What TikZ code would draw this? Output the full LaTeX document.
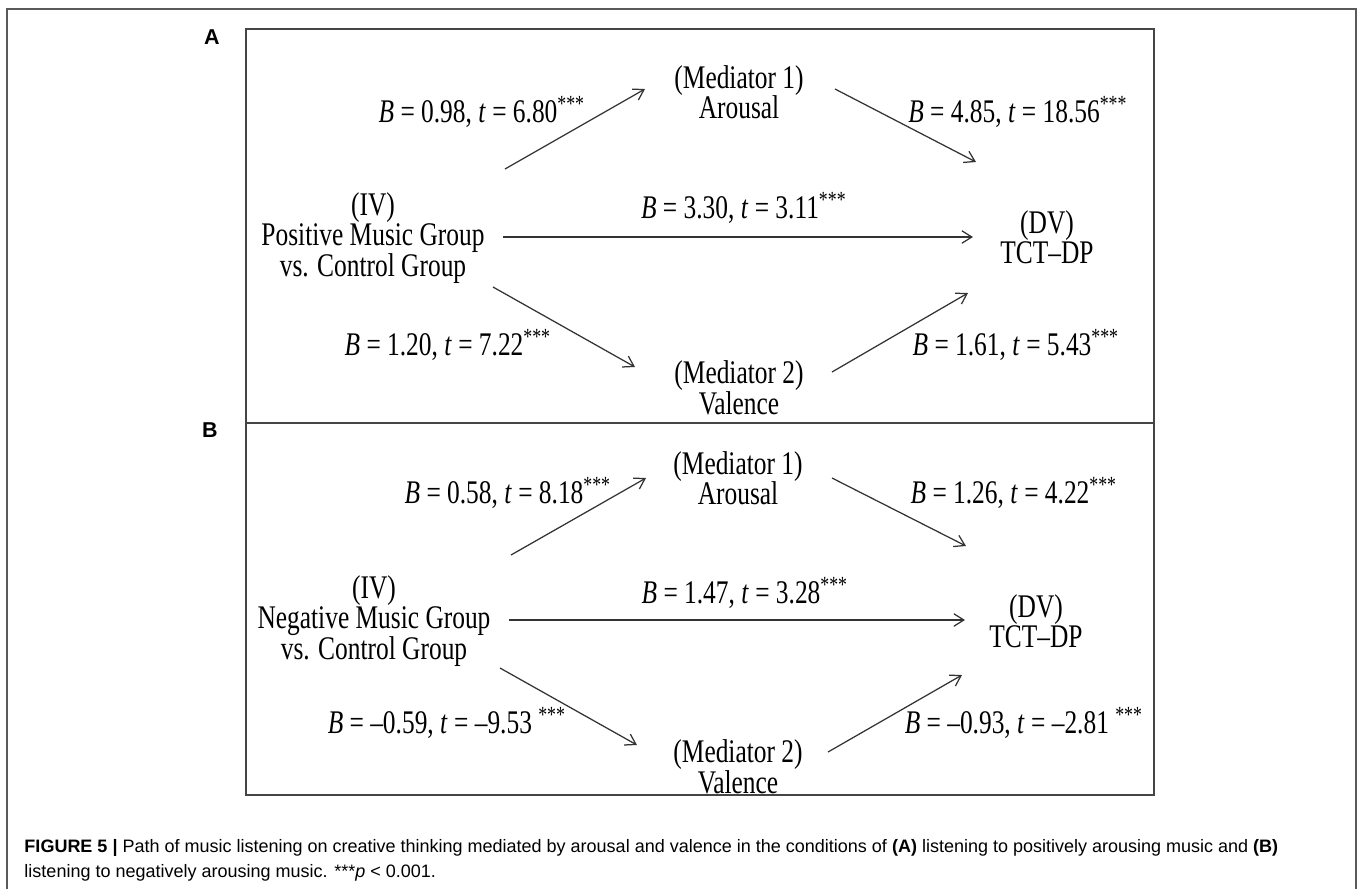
\documentclass[tikz,border=0pt]{standalone}
\usepackage{fontspec}
\usepackage{xcolor}
\usetikzlibrary{arrows.meta}

\newfontfamily\diagfont[FakeStretch=0.77]{Liberation Serif}
\newfontfamily\captfont{Liberation Sans}
\setlength{\lineskiplimit}{-6pt}
\newcommand{\coef}[2]{\textit{B} = #1, \textit{t} = #2}
\newcommand{\sig}{\textsuperscript{***}}
\definecolor{framegray}{HTML}{5A5A5A}
\definecolor{boxgray}{HTML}{454545}

\begin{document}
\begin{tikzpicture}[x=0.4pt, y=-0.4pt,
		var/.style={font=\diagfont\fontsize{13.2}{12.2}\selectfont, align=center, inner sep=0pt},
		coef/.style={font=\diagfont\fontsize{13.2}{12.2}\selectfont, inner sep=0pt},
		link/.style={draw=black!80, line width=0.5pt, -{Straight Barb[length=4pt, width=5pt]}},
		tag/.style={font=\captfont\bfseries\fontsize{8.6}{10}\selectfont, inner sep=0pt}]
		\useasboundingbox (0,0) rectangle (1358,889);
		
		\draw[framegray, line width=0.8pt] (7,889) -- (7,9) -- (1356,9) -- (1356,889);
		\begin{scope}[boxgray, line width=0.6pt]
			\draw (246,29) rectangle (1154,795);
			\draw (246,423) -- (1154,423);
		\end{scope}
		
		\node[tag] (tagA) at (212,37) {A};
		\node[tag] (tagB) at (210,430) {B};
		
		% panel A
		\node[var] (ivA) at (373,238) {(IV)\\Positive Music Group\\vs. Control Group};
		\node[var] (medA1) at (739,92) {(Mediator 1)\\Arousal};
		\node[var] (medA2) at (739,388) {(Mediator 2)\\Valence};
		\node[var] (dvA) at (1047,237) {(DV)\\TCT–DP};
		
		\coordinate (ivA-up) at (505,169);
		\coordinate (ivA-mid) at (503,237);
		\coordinate (ivA-dn) at (493,287);
		\coordinate (medA1-in) at (645,89);
		\coordinate (medA1-out) at (835,89);
		\coordinate (medA2-in) at (635,367);
		\coordinate (medA2-out) at (832,372);
		\coordinate (dvA-up) at (976,162);
		\coordinate (dvA-mid) at (973,237);
		\coordinate (dvA-dn) at (968,293);
		
		\draw[link] (ivA-up) -- (medA1-in);
		\draw[link] (medA1-out) -- (dvA-up);
		\draw[link] (ivA-mid) -- (dvA-mid);
		\draw[link] (ivA-dn) -- (medA2-in);
		\draw[link] (medA2-out) -- (dvA-dn);
		
		\node[coef] (cA1) at (482,112) {\coef{0.98}{6.80\sig}};
		\node[coef] (cA2) at (1018,112) {\coef{4.85}{18.56\sig}};
		\node[coef] (cA3) at (744,208) {\coef{3.30}{3.11\sig}};
		\node[coef] (cA4) at (448,345) {\coef{1.20}{7.22\sig}};
		\node[coef] (cA5) at (1016,345) {\coef{1.61}{5.43\sig}};
		
		% panel B
		\node[var] (ivB) at (374,621) {(IV)\\Negative Music Group\\vs. Control Group};
		\node[var] (medB1) at (738,478) {(Mediator 1)\\Arousal};
		\node[var] (medB2) at (738,767) {(Mediator 2)\\Valence};
		\node[var] (dvB) at (1036,621) {(DV)\\TCT–DP};
		
		\coordinate (ivB-up) at (511,555);
		\coordinate (ivB-mid) at (509,620);
		\coordinate (ivB-dn) at (500,668);
		\coordinate (medB1-in) at (646,478);
		\coordinate (medB1-out) at (832,478);
		\coordinate (medB2-in) at (637,745);
		\coordinate (medB2-out) at (828,752);
		\coordinate (dvB-up) at (966,546);
		\coordinate (dvB-mid) at (965,620);
		\coordinate (dvB-dn) at (962,675);
		
		\draw[link] (ivB-up) -- (medB1-in);
		\draw[link] (medB1-out) -- (dvB-up);
		\draw[link] (ivB-mid) -- (dvB-mid);
		\draw[link] (ivB-dn) -- (medB2-in);
		\draw[link] (medB2-out) -- (dvB-dn);
		
		\node[coef] (cB1) at (508,493) {\coef{0.58}{8.18\sig}};
		\node[coef] (cB2) at (1014,493) {\coef{1.26}{4.22\sig}};
		\node[coef] (cB3) at (745,593) {\coef{1.47}{3.28\sig}};
		\node[coef] (cB4) at (447,723) {\coef{–0.59}{–9.53 \sig}};
		\node[coef] (cB5) at (1024,723) {\coef{–0.93}{–2.81 \sig}};
		
		\node[font=\captfont\fontsize{7.2}{10}\selectfont, align=left, inner sep=0pt, anchor=west] (caption) at (24,860)
			{\textbf{FIGURE 5 |} Path of music listening on creative thinking mediated by arousal and valence in the conditions of \textbf{(A)} listening to positively arousing music and \textbf{(B)}\\listening to negatively arousing music. ***\textit{p} < 0.001.};
	\end{tikzpicture}
\end{document}
